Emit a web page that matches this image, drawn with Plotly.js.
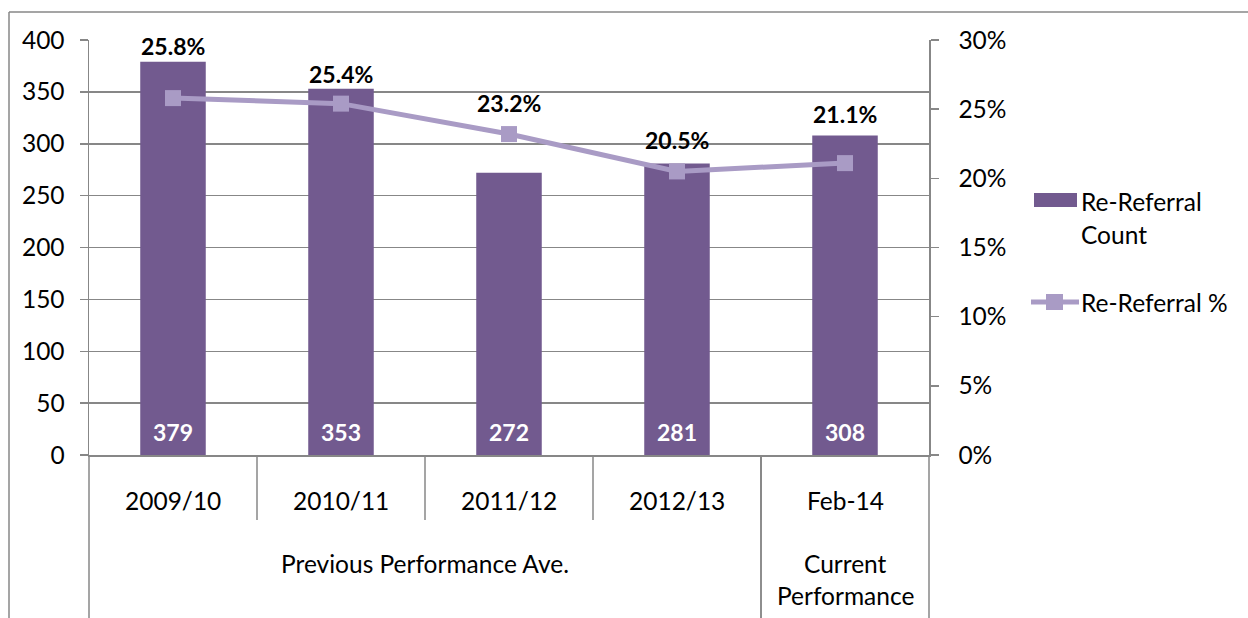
<!DOCTYPE html>
<html>
<head>
<meta charset="utf-8">
<script src="https://cdn.plot.ly/plotly-3.0.1.min.js"></script>
<style>html,body{margin:0;padding:0;background:#fff;}#chart{width:1248px;height:618px;}</style>
</head>
<body>
<div id="chart"></div>
<script>
// ---- data ----
const categories = ["2009/10", "2010/11", "2011/12", "2012/13", "Feb-14"];
const groups = ["Previous Performance Ave.", "Previous Performance Ave.", "Previous Performance Ave.", "Previous Performance Ave.", "Current Performance"];
const counts = [379, 353, 272, 281, 308];
const pcts = [0.258, 0.254, 0.232, 0.205, 0.211];
const pctLabels = ["25.8%", "25.4%", "23.2%", "20.5%", "21.1%"];
const seriesNames = ["Re-Referral Count", "Re-Referral %"];

// ---- style ----
const FONT = "Lato, 'Open Sans', sans-serif";
const FS = 24.5;
const FSB = 23;
const barColor = "#725A8F";
const lineColor = "#A99BC5";
const gridColor = "#878787";
const labelLift = [0, -1, 15, 7, 5]; // extra pixel lift of % labels

const n = categories.length;
const W = 1248, H = 618;
const M = {l: 89, r: 319, t: 40, b: 163};
const PW = W - M.l - M.r, PH = H - M.t - M.b;
const px = x => (x - M.l) / PW;
const py = y => (H - M.b - y) / PH;
const txt = (color, size) => ({family: FONT, size: size || FS, color: color || "#000"});

const traces = [
  {type: "bar", x: categories, y: counts, name: seriesNames[0], marker: {color: barColor},
   hoverinfo: "x+y", showlegend: false},
  {type: "scatter", mode: "lines+markers", x: categories, y: pcts, yaxis: "y2", name: seriesNames[1],
   line: {color: lineColor, width: 5}, marker: {symbol: "square", size: 16, color: lineColor},
   showlegend: false}
];

const annotations = [];
const shapes = [];
const yMax = 400, y2Max = 0.3;
for (let i = 0; i < n; i++) {
  annotations.push({x: categories[i], y: 0, xref: "x", yref: "y", text: "<b>" + counts[i] + "</b>",
    showarrow: false, xanchor: "center", yanchor: "middle", yshift: 23, font: txt("#fff", FSB)});
  const top = Math.max(counts[i], pcts[i] * yMax / y2Max);
  annotations.push({x: categories[i], y: top, xref: "x", yref: "y", text: "<b>" + pctLabels[i] + "</b>",
    showarrow: false, xanchor: "center", yanchor: "bottom", yshift: labelLift[i], font: txt("#000", FSB)});
  annotations.push({x: categories[i], y: py(500), xref: "x", yref: "paper", text: categories[i],
    showarrow: false, xanchor: "center", yanchor: "middle", font: txt()});
}
for (let i = 1; i < n; i++) {
  shapes.push({type: "line", xref: "paper", yref: "paper", x0: i / n, x1: i / n, y0: 0, y1: py(520),
    line: {color: gridColor, width: 1.5}});
}
const uniq = [];
groups.forEach((g, i) => { if (!uniq.length || uniq[uniq.length - 1].name !== g) uniq.push({name: g, start: i, end: i}); else uniq[uniq.length - 1].end = i; });
uniq.forEach(g => {
  const x0 = g.start / n, x1 = (g.end + 1) / n, xc = (x0 + x1) / 2;
  const wide = (g.end - g.start) >= 1;
  if (wide) {
    annotations.push({x: xc, y: py(563), xref: "paper", yref: "paper", text: g.name,
      showarrow: false, xanchor: "center", yanchor: "middle", font: txt()});
  } else {
    const words = g.name.split(" ");
    annotations.push({x: xc, y: py(563), xref: "paper", yref: "paper", text: words[0],
      showarrow: false, xanchor: "center", yanchor: "middle", font: txt()});
    annotations.push({x: xc, y: py(595), xref: "paper", yref: "paper", text: words.slice(1).join(" "),
      showarrow: false, xanchor: "center", yanchor: "middle", font: txt()});
  }
  [x0, x1].forEach(xx => shapes.push({type: "line", xref: "paper", yref: "paper", x0: xx, x1: xx, y0: 0, y1: py(H + 5),
    line: {color: gridColor, width: 1.5}}));
});

shapes.push({type: "line", xref: "paper", yref: "paper", x0: px(9), x1: px(W + 5), y0: py(12), y1: py(12), line: {color: gridColor, width: 1.5}});
shapes.push({type: "line", xref: "paper", yref: "paper", x0: px(9), x1: px(9), y0: py(12), y1: py(H + 5), line: {color: gridColor, width: 1.5}});

// manual legend
shapes.push({type: "rect", xref: "paper", yref: "paper", x0: px(1034), x1: px(1077), y0: py(207), y1: py(193),
  fillcolor: barColor, line: {width: 0}});
annotations.push({x: px(1079), y: py(202), xref: "paper", yref: "paper", xanchor: "left", yanchor: "middle",
  text: "Re-Referral", showarrow: false, font: txt()});
annotations.push({x: px(1079), y: py(235), xref: "paper", yref: "paper", xanchor: "left", yanchor: "middle",
  text: "Count", showarrow: false, font: txt()});
shapes.push({type: "line", xref: "paper", yref: "paper", x0: px(1031), x1: px(1079), y0: py(302), y1: py(302),
  line: {color: lineColor, width: 5}});
shapes.push({type: "rect", xref: "paper", yref: "paper", x0: px(1046), x1: px(1063), y0: py(310), y1: py(294),
  fillcolor: lineColor, line: {width: 0}});
annotations.push({x: px(1079), y: py(302), xref: "paper", yref: "paper", xanchor: "left", yanchor: "middle",
  text: seriesNames[1], showarrow: false, font: txt()});

const layout = {
  width: W, height: H,
  margin: M,
  paper_bgcolor: "#fff", plot_bgcolor: "#fff",
  font: txt(),
  bargap: 0.61,
  showlegend: false,
  xaxis: {type: "category", showticklabels: false, ticks: "", showgrid: false, zeroline: false,
    showline: true, linecolor: gridColor, linewidth: 1.5, range: [-0.5, n - 0.5], fixedrange: true},
  yaxis: {range: [0, yMax], dtick: 50, tick0: 0, showgrid: true, gridcolor: gridColor, gridwidth: 1.5,
    showline: true, linecolor: gridColor, linewidth: 1.5, ticks: "outside", ticklen: 8, tickcolor: gridColor,
    tickwidth: 1.5, zeroline: false, ticklabelstandoff: 10, tickfont: txt()},
  yaxis2: {overlaying: "y", side: "right", range: [0, y2Max], dtick: 0.05, tick0: 0, tickformat: ".0%",
    showgrid: false, showline: true, linecolor: gridColor, linewidth: 1.5, ticks: "outside", ticklen: 8,
    tickcolor: gridColor, tickwidth: 1.5, zeroline: false, ticklabelstandoff: 15, tickfont: txt()},
  annotations: annotations,
  shapes: shapes
};

Plotly.newPlot("chart", traces, layout, {displayModeBar: false, staticPlot: true});
</script>
</body>
</html>
